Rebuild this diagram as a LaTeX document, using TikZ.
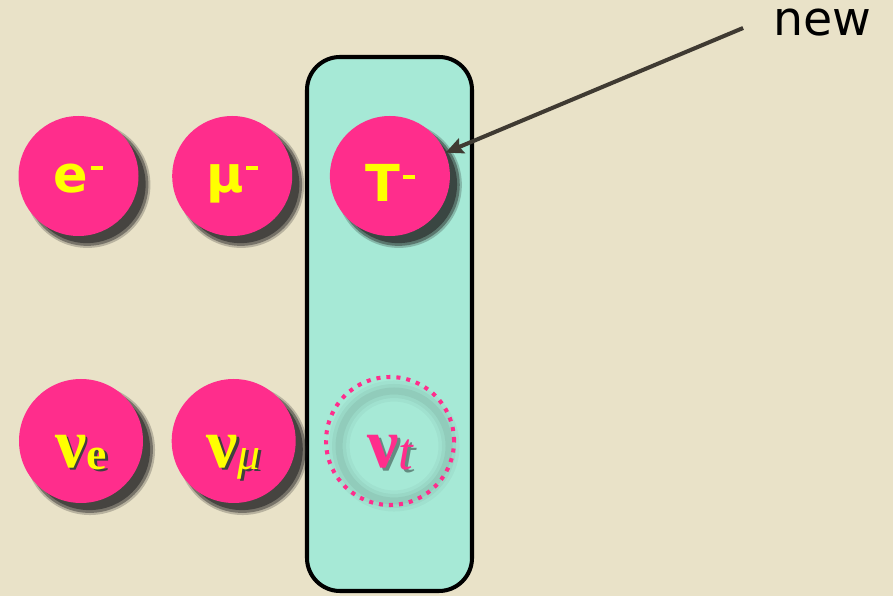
\documentclass[tikz,border=0pt]{standalone}
\usepackage{fontspec}
\setmainfont{DejaVu Sans}
\newfontfamily\grk{Liberation Serif}
\usepackage{tikz}
\usetikzlibrary{positioning, arrows.meta, calc, shadows}
\definecolor{bgbeige}{RGB}{233,226,200}
\definecolor{lepink}{RGB}{255,45,140}
\definecolor{leyellow}{RGB}{255,255,0}
\definecolor{colteal}{RGB}{166,233,214}
\definecolor{ptrgray}{RGB}{63,58,50}
\newcommand{\chg}{\hspace{1.5pt}\rule[13pt]{6.8pt}{2pt}}
\newcommand{\drop}[3]{\makebox[0pt][l]{\hspace*{#2}\raisebox{-#2}{\color{#1}#3}}#3}
\tikzset{
  softshadow/.style={
    general shadow={fill=black!85, shadow xshift=0.17cm, shadow yshift=-0.17cm, shadow scale=1.05, opacity=0.25},
    general shadow={fill=black!85, shadow xshift=0.17cm, shadow yshift=-0.17cm, shadow scale=1.02, opacity=0.45},
    general shadow={fill=black!85, shadow xshift=0.17cm, shadow yshift=-0.17cm, shadow scale=0.98, opacity=0.6}},
  lepton/.style={circle, fill=lepink, minimum size=2.4cm, inner sep=0pt, softshadow,
    text=leyellow, font=\fontsize{29pt}{29pt}\selectfont\bfseries,
    text height=19pt, text depth=0pt},
  neutrino/.style={lepton, minimum size=2.48cm, font=\grk, text height=30pt},
  ghost/.style={circle, draw=lepink, line width=2.3pt, dash pattern=on 2.3pt off 3.4pt,
    minimum size=2.56cm, inner sep=0pt, text=lepink, font=\grk,
    text height=30pt, text depth=0pt},
  column/.style={rectangle, draw=black, fill=colteal, line width=2.3pt, rounded corners=0.66cm},
  pointer/.style={-{Stealth[length=10pt, width=9pt, inset=1.5pt]}, line width=2.3pt, color=ptrgray},
  tag/.style={font=\fontsize{27pt}{27pt}\selectfont, inner xsep=0.6cm, inner ysep=0pt,
    text height=15pt, text depth=7pt}
}

\begin{document}
\begin{tikzpicture}
  \fill[bgbeige] (0,0) rectangle (17.86,11.92);
  \useasboundingbox (0,0) rectangle (17.86,11.92);

  % third generation column
  \node[column, minimum width=3.3cm, minimum height=10.68cm] (col) at (7.79,5.44) {};

  % charged leptons
  \node[lepton] (ele) at (1.57,8.4) {e\chg};
  \node[lepton, right=0.66cm of ele] (muon) {μ\chg};
  \node[lepton, right=0.74cm of muon, text height=29.4pt] (tau) {T\chg};

  % neutrinos
  \node[neutrino] (nue) at (1.62,3.1)
    {\drop{black!75}{1.5pt}{{\bfseries\fontsize{40pt}{40pt}\selectfont ν}\raisebox{-1pt}{\bfseries\fontsize{26pt}{26pt}\selectfont e}}};
  \node[neutrino, right=0.56cm of nue] (numu)
    {\drop{black!75}{1.5pt}{{\bfseries\fontsize{40pt}{40pt}\selectfont ν}\raisebox{-1pt}{\itshape\fontsize{26pt}{26pt}\selectfont μ}}};
  \coordinate[right=1.88cm of numu] (nt);
  \foreach \w/\o in {12pt/0.03, 8pt/0.04, 4pt/0.05}
    \draw[black, opacity=\o, line width=\w] ($(nt)+(0.08,-0.1)$) circle (1.1cm);
  \node[ghost] (nutau) at (nt)
    {\drop{colteal!60!black}{2pt}{{\bfseries\fontsize{40pt}{40pt}\selectfont ν}\raisebox{-1pt}{\itshape\fontsize{30pt}{30pt}\selectfont t}}};

  % pointer
  \node[tag] (new) at (16.45,11.36) {new};
  \draw[pointer] (new.west) -- (tau);
\end{tikzpicture}
\end{document}
